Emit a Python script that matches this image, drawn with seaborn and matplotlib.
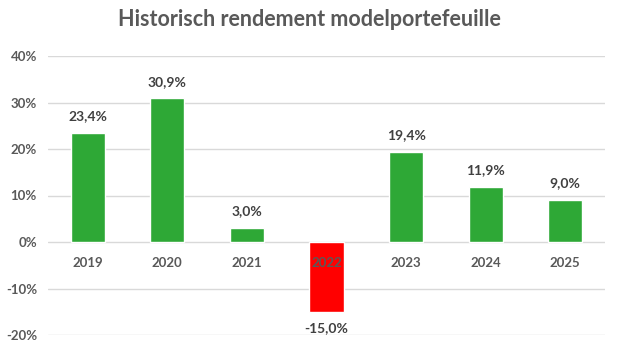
import matplotlib
matplotlib.use("Agg")
import matplotlib.pyplot as plt
import seaborn as sns
from matplotlib.ticker import FuncFormatter

years = ["2019", "2020", "2021", "2022", "2023", "2024", "2025"]
returns = [23.4, 30.9, 3.0, -15.0, 19.4, 11.9, 9.0]
labels = ["23,4%", "30,9%", "3,0%", "-15,0%", "19,4%", "11,9%", "9,0%"]
yticks = [-20, -10, 0, 10, 20, 30, 40]

green = "#2EA836"
red = "#FF0000"
colors = [red if v < 0 else green for v in returns]
text_col = "#595959"

sns.set_theme(style="white")
plt.rcParams['font.family'] = ['Lato', 'DejaVu Sans']

fig = plt.figure(figsize=(6.18, 3.48), dpi=100)
ax = fig.add_axes([48/618, 13/348, (605-48)/618, (335-56)/348])

sns.barplot(x=years, y=returns, hue=years, palette=colors, legend=False,
            width=0.43, saturation=1, ax=ax)

ax.set_ylim(-20, 40)
ax.set_yticks(yticks)
ax.yaxis.set_major_formatter(FuncFormatter(lambda v, p: f"{int(v)}%"))
ax.grid(axis='y', color='#D9D9D9', linewidth=1)
ax.set_axisbelow(True)
ax.xaxis.set_zorder(5)
for s in ax.spines.values():
    s.set_visible(False)
ax.spines['bottom'].set_position(('data', 0))
ax.tick_params(axis='both', length=0, labelsize=9.5, labelcolor=text_col)
ax.tick_params(axis='x', pad=11)
ax.tick_params(axis='y', pad=8)
for t in ax.get_xticklabels() + ax.get_yticklabels():
    t.set_fontweight('bold')
ax.set_xlabel("")
ax.set_ylabel("")
ax.set_xlim(-0.5, len(years) - 0.5)

for i, (v, lab) in enumerate(zip(returns, labels)):
    off = 12 if v >= 0 else -12
    ax.annotate(lab, (i, v), xytext=(0, off), textcoords='offset points',
                ha='center', va='center', fontsize=10, fontweight='bold',
                color='#404040')

fig.text(0.5, 1 - 20/348, "Historisch rendement modelportefeuille",
         ha='center', va='center', fontsize=15.5, fontweight='bold', color=text_col)

fig.savefig("out.png", dpi=100)
